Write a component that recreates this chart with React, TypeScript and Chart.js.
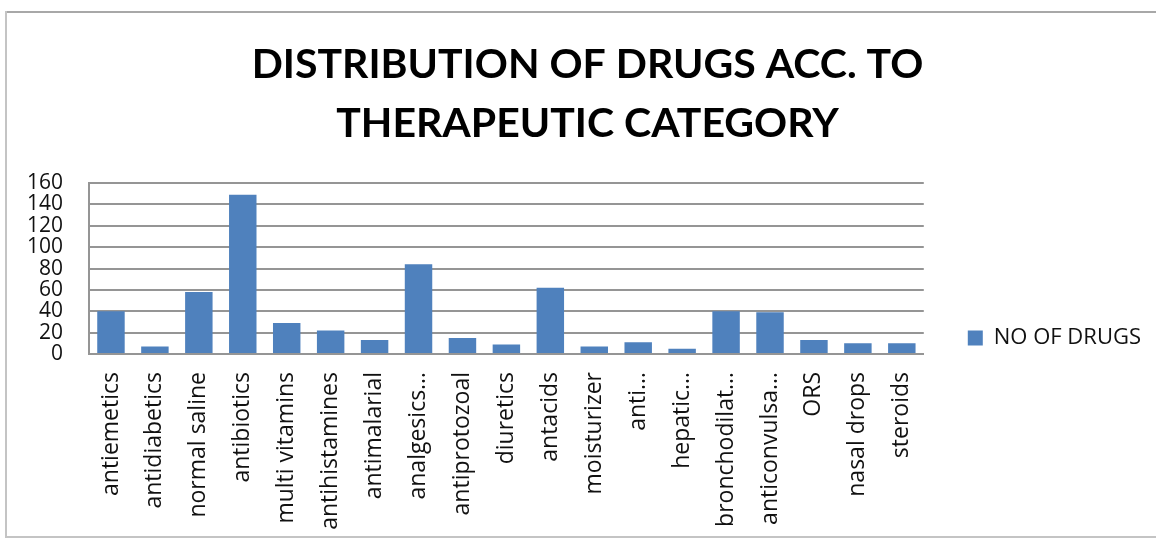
import React, { useEffect, useRef } from "react";
import { Chart, registerables } from "chart.js";

Chart.register(...registerables);

// Therapeutic categories (long names are shortened with an ellipsis on the axis)
const categories: string[] = [
  "antiemetics",
  "antidiabetics",
  "normal saline",
  "antibiotics",
  "multi vitamins",
  "antihistamines",
  "antimalarial",
  "analgesics…",
  "antiprotozoal",
  "diuretics",
  "antacids",
  "moisturizer",
  "anti…",
  "hepatic…",
  "bronchodilat…",
  "anticonvulsa…",
  "ORS",
  "nasal drops",
  "steroids",
];

// Number of drugs prescribed in each category
const drugCounts: number[] = [40, 7, 58, 149, 29, 22, 13, 84, 15, 9, 62, 7, 11, 5, 40, 39, 13, 10, 10];

const seriesName = "NO OF DRUGS";
const titleLines: string[] = ["DISTRIBUTION OF DRUGS ACC. TO", "THERAPEUTIC CATEGORY"];

const yMin = 0;
const yMax = 160;
const yStep = 20;

const BAR_BLUE = "#4F81BD";
const GRID_GRAY = "#959595";
const TEXT = "#111111";

// Thin grey frame around the whole chart object
const framePlugin = {
  id: "chartFrame",
  beforeDraw(chart: Chart) {
    const { ctx, width, height } = chart;
    ctx.save();
    ctx.fillStyle = "#ffffff";
    ctx.fillRect(0, 0, width, height);
    ctx.lineWidth = 2;
    ctx.strokeStyle = "#a8a8a8";
    ctx.beginPath();
    ctx.moveTo(6, 12);
    ctx.lineTo(width, 12);
    ctx.stroke();
    ctx.strokeStyle = "#c4c4c4";
    ctx.beginPath();
    ctx.moveTo(6, 11);
    ctx.lineTo(6, height - 5);
    ctx.lineTo(width, height - 5);
    ctx.stroke();
    ctx.restore();
  },
};

function DrugChart() {
  const canvasRef = useRef<HTMLCanvasElement | null>(null);

  useEffect(() => {
    const canvas = canvasRef.current;
    if (!canvas) return;
    const chart = new Chart(canvas, {
      type: "bar",
      data: {
        labels: categories,
        datasets: [
          {
            label: seriesName,
            data: drugCounts,
            backgroundColor: BAR_BLUE,
            borderWidth: 0,
            barPercentage: 0.625,
            categoryPercentage: 1,
          },
        ],
      },
      options: {
        animation: false,
        responsive: true,
        maintainAspectRatio: false,
        layout: { padding: { left: 24, right: 5, top: 0, bottom: 0 } },
        plugins: {
          title: {
            display: true,
            text: titleLines,
            color: "#000000",
            font: { family: "Lato", size: 41, weight: "bold", lineHeight: 1.44 },
            padding: { top: 35, bottom: 30 },
          },
          legend: {
            display: true,
            position: "right",
            align: "start",
            title: {
              display: true,
              text: " ",
              font: { size: 10 },
              padding: { top: 271, bottom: 0 },
            },
            labels: {
              color: TEXT,
              font: { family: "Open Sans", size: 22 },
              boxWidth: 15,
              boxHeight: 15,
              padding: 44,
            },
          },
          tooltip: { enabled: false },
        },
        scales: {
          x: {
            offset: true,
            grid: { display: false, drawTicks: false },
            border: { display: true, color: GRID_GRAY, width: 2 },
            ticks: {
              autoSkip: false,
              minRotation: 90,
              maxRotation: 90,
              padding: 18,
              color: TEXT,
              font: { family: "Open Sans", size: 23 },
            },
            afterFit(scale: any) {
              scale.height = 188;
            },
          },
          y: {
            min: yMin,
            max: yMax,
            grid: { color: GRID_GRAY, lineWidth: 2, drawTicks: false },
            border: { display: true, color: GRID_GRAY, width: 2 },
            ticks: {
              stepSize: yStep,
              autoSkip: false,
              padding: 26,
              color: TEXT,
              font: { family: "Open Sans", size: 21 },
            },
            afterFit(scale: any) {
              scale.width = 65;
            },
          },
        },
      },
      plugins: [framePlugin],
    });
    return () => chart.destroy();
  }, []);

  return (
    <div style={{ position: "fixed", left: 0, top: 0, width: 1156, height: 542 }}>
      <canvas ref={canvasRef} />
    </div>
  );
}

export default function App() {
  return <DrugChart />;
}
